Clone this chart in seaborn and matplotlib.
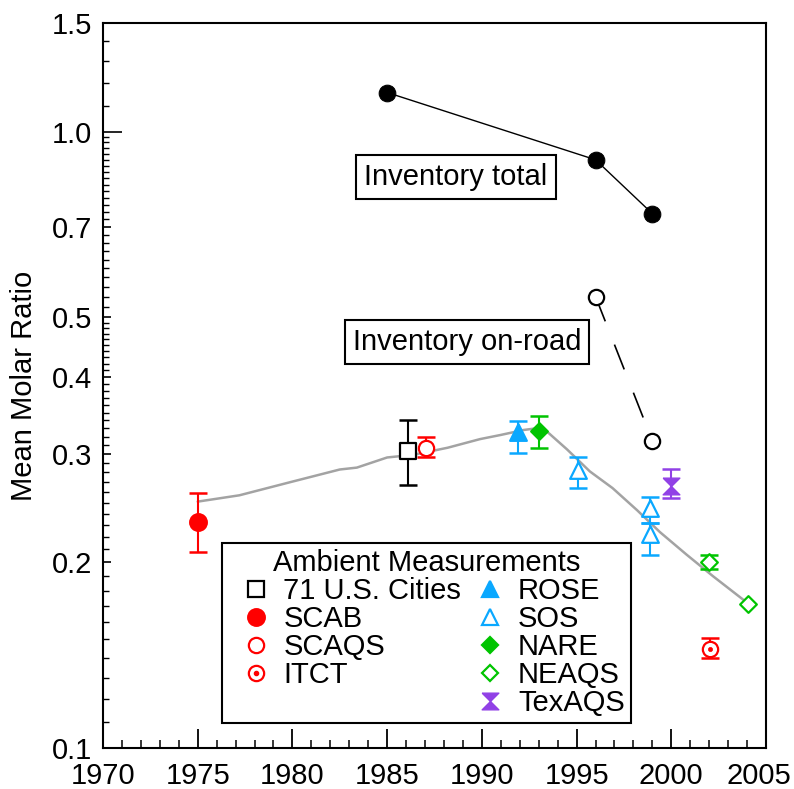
import numpy as np
import matplotlib
matplotlib.use("Agg")
import matplotlib.pyplot as plt
import matplotlib.transforms as mtransforms
from matplotlib.lines import Line2D
from matplotlib.path import Path
from matplotlib.ticker import FixedLocator, FixedFormatter, MultipleLocator, NullFormatter
import seaborn as sns

# ---------------- data ----------------
trend_years = [1975.0, 1977.2, 1979.9, 1982.5, 1983.4, 1985.0, 1986.4, 1988.2, 1989.9,
               1991.0, 1992.2, 1993.2, 1994.5, 1995.7, 1996.9, 1998.2, 1999.4, 2000.8,
               2002.2, 2003.8, 2004.05]
trend_vals = [0.251, 0.257, 0.270, 0.283, 0.285, 0.296, 0.299, 0.307, 0.317,
              0.322, 0.328, 0.331, 0.305, 0.281, 0.264, 0.243, 0.224, 0.206,
              0.190, 0.174, 0.171]

inv_total_years = [1985, 1996, 1999]
inv_total_vals = [1.157, 0.900, 0.736]
inv_road_years = [1996, 1999]
inv_road_vals = [0.540, 0.315]

cities_year, cities_val, cities_lo, cities_hi = [1986.1], [0.303], [0.267], [0.341]
scab_year, scab_val, scab_lo, scab_hi = [1975.0], [0.233], [0.208], [0.259]
scaqs_year, scaqs_val, scaqs_lo, scaqs_hi = [1987.05], [0.307], [0.297], [0.320]
itct_year, itct_val, itct_lo, itct_hi = [2002.05], [0.145], [0.140], [0.151]
rose_year, rose_val, rose_lo, rose_hi = [1991.9], [0.325], [0.301], [0.339]
sos_year = [1995.1, 1998.9, 1998.9]
sos_val = [0.282, 0.245, 0.222]
sos_lo = [0.264, 0.232, 0.206]
sos_hi = [0.297, 0.255, 0.232]
nare_year, nare_val, nare_lo, nare_hi = [1993.0], [0.327], [0.307], [0.346]
neaqs_year = [2002.0, 2004.05]
neaqs_val = [0.200, 0.171]
neaqs_lo = [0.195, np.nan]
neaqs_hi = [0.206, np.nan]
texaqs_year, texaqs_val, texaqs_lo, texaqs_hi = [2000.0], [0.266], [0.254], [0.283]

y_ticks = [0.1, 0.2, 0.3, 0.4, 0.5, 0.7, 1.0, 1.5]
y_ticklabels = ["0.1", "0.2", "0.3", "0.4", "0.5", "0.7", "1.0", "1.5"]
x_ticks = [1970, 1975, 1980, 1985, 1990, 1995, 2000, 2005]

# ---------------- style ----------------
sns.set_theme(style="white")
plt.rcParams["font.family"] = ["Liberation Sans", "DejaVu Sans"]
plt.rcParams["axes.edgecolor"] = "black"
plt.rcParams["axes.linewidth"] = 1.5
plt.rcParams["text.color"] = "black"
plt.rcParams["axes.labelcolor"] = "black"
plt.rcParams["xtick.color"] = "black"
plt.rcParams["ytick.color"] = "black"

FS = 21
RED = "#FF0000"
BLUE = "#0AA8FF"
GREEN = "#00C400"
PURPLE = "#9141E6"
GRAY = "#A3A3A3"

fig = plt.figure(figsize=(7.94, 7.89), dpi=100)
W, H = 794, 789
L, R, T, B = 103, 766, 23, 748
ax = fig.add_axes([L / W, (H - B) / H, (R - L) / W, (B - T) / H])
ax.set_facecolor("white")

# trend line
sns.lineplot(x=trend_years, y=trend_vals, ax=ax, color=GRAY, lw=1.8, sort=False, zorder=1)

# inventory lines
sns.lineplot(x=inv_total_years, y=inv_total_vals, ax=ax, color="black", lw=1.0, sort=False,
             marker="o", markersize=12, markerfacecolor="black", markeredgecolor="black", zorder=3)
sns.lineplot(x=inv_road_years, y=inv_road_vals, ax=ax, color="black", lw=1.2, sort=False,
             linestyle=(0, (16, 15)), zorder=2)
sns.scatterplot(x=inv_road_years, y=inv_road_vals, ax=ax, marker="o", s=11 ** 2,
                facecolor="white", edgecolor="black", linewidth=1.6, zorder=4)

hourglass = Path([(-1, 1), (1, 1), (0, 0), (1, -1), (-1, -1), (0, 0), (-1, 1)])


def err(xs, ys, lo, hi, color):
    xs = np.asarray(xs, float)
    ys = np.asarray(ys, float)
    lo = np.asarray(lo, float)
    hi = np.asarray(hi, float)
    m = np.isfinite(lo)
    ax.errorbar(xs[m], ys[m], yerr=[ys[m] - lo[m], hi[m] - ys[m]], fmt="none",
                ecolor=color, elinewidth=1.5, capsize=6.5, capthick=1.8, zorder=5)


def pts(xs, ys, marker, size, color, filled, lw=1.6):
    sns.scatterplot(x=xs, y=ys, ax=ax, marker=marker, s=size ** 2,
                    facecolor=color if filled else "white", edgecolor=color,
                    linewidth=lw, zorder=6)


err(cities_year, cities_val, cities_lo, cities_hi, "black")
pts(cities_year, cities_val, "s", 12, "black", False)
err(scab_year, scab_val, scab_lo, scab_hi, RED)
pts(scab_year, scab_val, "o", 12, RED, True)
err(scaqs_year, scaqs_val, scaqs_lo, scaqs_hi, RED)
pts(scaqs_year, scaqs_val, "o", 11, RED, False)
err(itct_year, itct_val, itct_lo, itct_hi, RED)
pts(itct_year, itct_val, "o", 11, RED, False)
sns.scatterplot(x=itct_year, y=itct_val, ax=ax, marker="o", s=3 ** 2, color=RED,
                edgecolor=RED, linewidth=0.5, zorder=7)
err(rose_year, rose_val, rose_lo, rose_hi, BLUE)
pts(rose_year, rose_val, "^", 12, BLUE, True)
err(sos_year, sos_val, sos_lo, sos_hi, BLUE)
pts(sos_year, sos_val, "^", 12, BLUE, False)
err(nare_year, nare_val, nare_lo, nare_hi, GREEN)
pts(nare_year, nare_val, "D", 8.5, GREEN, True)
err(neaqs_year, neaqs_val, neaqs_lo, neaqs_hi, GREEN)
pts(neaqs_year, neaqs_val, "D", 8.5, GREEN, False)
err(texaqs_year, texaqs_val, texaqs_lo, texaqs_hi, PURPLE)
pts(texaqs_year, texaqs_val, hourglass, 12, PURPLE, True, lw=1.0)

# ---------------- axes ----------------
ax.set_yscale("log")
ax.set_xlim(1970, 2005)
ax.set_ylim(0.1, 1.5)

ax.yaxis.set_major_locator(FixedLocator(y_ticks))
ax.yaxis.set_major_formatter(FixedFormatter(y_ticklabels))
minor_y = ([round(v, 2) for v in np.arange(0.11, 0.50, 0.01)] +
           [round(v, 2) for v in np.arange(0.52, 0.99, 0.02)] +
           [1.1, 1.2, 1.3, 1.4])
minor_y = [v for v in minor_y if v not in y_ticks]
ax.yaxis.set_minor_locator(FixedLocator(minor_y))
ax.yaxis.set_minor_formatter(NullFormatter())

ax.xaxis.set_major_locator(FixedLocator(x_ticks))
ax.xaxis.set_minor_locator(MultipleLocator(1))

ax.tick_params(axis="both", which="both", direction="in", color="black", labelsize=FS,
               labelcolor="black", left=True, bottom=True, right=False, top=False)
ax.tick_params(axis="x", which="major", length=13.5, width=1.3, pad=10)
ax.tick_params(axis="x", which="minor", length=5.8, width=1.1)
ax.tick_params(axis="y", which="major", length=6, width=1.2, pad=8)
ax.tick_params(axis="y", which="minor", length=4.5, width=1.0)
for tk, v in zip(ax.yaxis.get_major_ticks(), y_ticks):
    if v == 1.0:
        tk.tick1line.set_markersize(14)

# nudge the last x label so it stays inside the canvas
last_lbl = ax.xaxis.get_major_ticks()[-1].label1
last_lbl.set_transform(last_lbl.get_transform() +
                       mtransforms.ScaledTranslation(-7 / 100, 0, fig.dpi_scale_trans))

for sp in ax.spines.values():
    sp.set_visible(True)
    sp.set_color("black")
    sp.set_linewidth(1.5)

ax.set_xlabel("")
ax.set_ylabel("Mean Molar Ratio", fontsize=FS, color="black")
ax.yaxis.set_label_coords((38 - L) / (R - L), 0.5)

# ---------------- annotations ----------------
box = dict(boxstyle="square,pad=0.28", facecolor="white", edgecolor="black", linewidth=1.5)
ax.text((456 - L) / (R - L), (B - 177) / (B - T), "Inventory total", transform=ax.transAxes,
        ha="center", va="center", fontsize=FS, color="black", bbox=box, zorder=8)
ax.text((467 - L) / (R - L), (B - 342) / (B - T), "Inventory on-road", transform=ax.transAxes,
        ha="center", va="center", fontsize=FS, color="black", bbox=box, zorder=8)

# ---------------- legend ----------------
def h(marker, size, color, filled, lw=1.6):
    return Line2D([], [], ls="none", marker=marker, markersize=size,
                  markerfacecolor=color if filled else "white",
                  markeredgecolor=color, markeredgewidth=lw)


itct_handle = (h("o", 11, RED, False),
               Line2D([], [], ls="none", marker="o", markersize=3, color=RED))
blank = Line2D([], [], ls="none", marker=None, alpha=0)
handles = [h("s", 12, "black", False), h("o", 12, RED, True), h("o", 11, RED, False),
           itct_handle, blank,
           h("^", 12, BLUE, True), h("^", 12, BLUE, False), h("D", 8.5, GREEN, True),
           h("D", 8.5, GREEN, False), h(hourglass, 12, PURPLE, True, lw=1.0)]
labels = ["71 U.S. Cities", "SCAB", "SCAQS", "ITCT", "",
          "ROSE", "SOS", "NARE", "NEAQS", "TexAQS"]
leg = ax.legend(handles, labels, ncol=2, loc="lower left",
                bbox_to_anchor=((222 - L) / (R - L), (B - 723) / (B - T)),
                title="Ambient Measurements", fontsize=FS, title_fontsize=FS,
                frameon=True, fancybox=False, shadow=False, framealpha=1,
                edgecolor="black", borderpad=0.2, labelspacing=0.0,
                handlelength=1.9, handletextpad=0.0, columnspacing=0.05,
                borderaxespad=0, labelcolor="black")
leg.get_title().set_color("black")
leg.get_frame().set_linewidth(1.5)
leg.set_zorder(9)

fig.savefig("out.png", dpi=100, facecolor="white")
